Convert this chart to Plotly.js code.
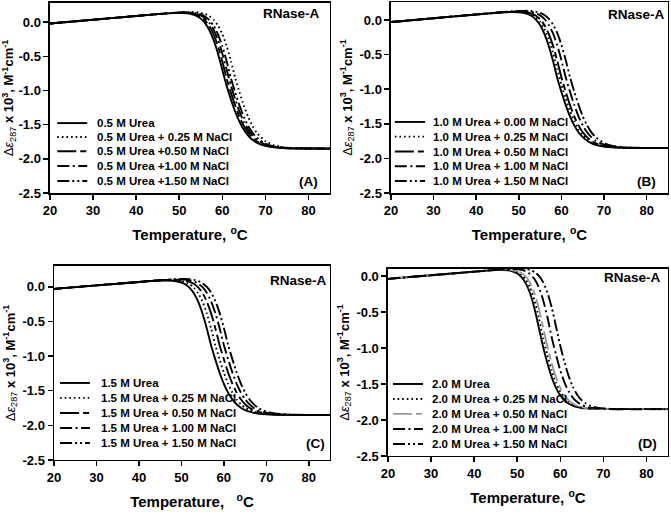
<!DOCTYPE html>
<html>
<head>
<meta charset="utf-8">
<script src="https://cdn.plot.ly/plotly-3.0.1.min.js"></script>
<style>
  body { margin: 0; background: #fff; }
  #chart { width: 671px; height: 515px; }
</style>
</head>
<body>
<div id="chart"></div>
<script>
// Temperature grid (deg C) shared by all curves
const temps = [20, 30, 40, 45, 48, 50, 51, 52, 53, 54, 55, 56, 57, 58, 59, 60, 61, 62, 63, 64, 65, 66, 67, 68, 70, 72, 75, 80, 85]

// (A) 0.5 M urea
const A_nacl000 = [-0.020, 0.035, 0.090, 0.117, 0.130, 0.135, 0.133, 0.128, 0.115, 0.092, 0.051, -0.015, -0.118, -0.265, -0.461, -0.698, -0.929, -1.131, -1.311, -1.459, -1.574, -1.659, -1.720, -1.762, -1.811, -1.832, -1.845, -1.849, -1.850]
const A_nacl025 = [-0.020, 0.035, 0.090, 0.117, 0.133, 0.142, 0.146, 0.148, 0.148, 0.145, 0.136, 0.119, 0.087, 0.034, -0.049, -0.174, -0.347, -0.567, -0.817, -1.027, -1.221, -1.386, -1.518, -1.618, -1.742, -1.801, -1.836, -1.848, -1.850]
const A_nacl050 = [-0.020, 0.035, 0.090, 0.117, 0.131, 0.137, 0.137, 0.134, 0.125, 0.108, 0.077, 0.024, -0.059, -0.183, -0.355, -0.574, -0.822, -1.031, -1.224, -1.389, -1.520, -1.619, -1.692, -1.743, -1.802, -1.829, -1.844, -1.849, -1.850]
const A_nacl100 = [-0.020, 0.035, 0.090, 0.117, 0.132, 0.139, 0.140, 0.139, 0.133, 0.121, 0.097, 0.056, -0.010, -0.113, -0.261, -0.458, -0.694, -0.926, -1.129, -1.310, -1.458, -1.573, -1.658, -1.719, -1.791, -1.824, -1.842, -1.849, -1.850]
const A_nacl150 = [-0.020, 0.035, 0.090, 0.117, 0.132, 0.140, 0.142, 0.143, 0.139, 0.131, 0.113, 0.082, 0.029, -0.054, -0.178, -0.351, -0.570, -0.820, -1.029, -1.222, -1.387, -1.519, -1.619, -1.691, -1.778, -1.818, -1.841, -1.849, -1.850]

// (B) 1.0 M urea
const B_nacl000 = [-0.030, 0.025, 0.080, 0.105, 0.116, 0.113, 0.105, 0.088, 0.057, 0.005, -0.077, -0.200, -0.371, -0.587, -0.833, -1.040, -1.230, -1.393, -1.523, -1.622, -1.693, -1.744, -1.779, -1.802, -1.829, -1.841, -1.848, -1.850, -1.850]
const B_nacl025 = [-0.030, 0.025, 0.080, 0.106, 0.118, 0.118, 0.112, 0.100, 0.077, 0.036, -0.029, -0.131, -0.277, -0.472, -0.706, -0.936, -1.137, -1.315, -1.462, -1.576, -1.660, -1.720, -1.763, -1.791, -1.824, -1.838, -1.847, -1.850, -1.850]
const B_nacl050 = [-0.030, 0.025, 0.080, 0.107, 0.119, 0.122, 0.119, 0.110, 0.093, 0.062, 0.010, -0.073, -0.196, -0.367, -0.584, -0.830, -1.037, -1.229, -1.392, -1.522, -1.621, -1.693, -1.743, -1.778, -1.818, -1.836, -1.846, -1.850, -1.850]
const B_nacl100 = [-0.030, 0.025, 0.080, 0.107, 0.121, 0.127, 0.127, 0.124, 0.116, 0.098, 0.067, 0.015, -0.068, -0.191, -0.363, -0.580, -0.827, -1.035, -1.227, -1.391, -1.522, -1.621, -1.692, -1.743, -1.802, -1.829, -1.844, -1.849, -1.850]
const B_nacl150 = [-0.030, 0.025, 0.080, 0.107, 0.123, 0.130, 0.132, 0.133, 0.130, 0.121, 0.104, 0.072, 0.020, -0.063, -0.187, -0.359, -0.577, -0.825, -1.033, -1.225, -1.390, -1.521, -1.620, -1.692, -1.778, -1.818, -1.841, -1.849, -1.850]

// (C) 1.5 M urea
const C_nacl000 = [-0.030, 0.020, 0.070, 0.090, 0.088, 0.062, 0.031, -0.020, -0.102, -0.223, -0.392, -0.605, -0.848, -1.051, -1.240, -1.400, -1.528, -1.625, -1.696, -1.745, -1.780, -1.803, -1.819, -1.829, -1.841, -1.846, -1.849, -1.850, -1.850]
const C_nacl025 = [-0.030, 0.020, 0.070, 0.092, 0.097, 0.085, 0.067, 0.036, -0.016, -0.097, -0.219, -0.388, -0.602, -0.845, -1.049, -1.238, -1.399, -1.527, -1.625, -1.695, -1.745, -1.780, -1.803, -1.819, -1.836, -1.844, -1.848, -1.850, -1.850]
const C_nacl050 = [-0.030, 0.020, 0.070, 0.094, 0.102, 0.098, 0.089, 0.072, 0.041, -0.011, -0.093, -0.215, -0.384, -0.599, -0.843, -1.047, -1.237, -1.398, -1.527, -1.624, -1.695, -1.745, -1.779, -1.803, -1.829, -1.841, -1.847, -1.850, -1.850]
const C_nacl100 = [-0.030, 0.020, 0.070, 0.095, 0.105, 0.107, 0.103, 0.094, 0.077, 0.046, -0.006, -0.088, -0.211, -0.381, -0.596, -0.840, -1.046, -1.235, -1.397, -1.526, -1.624, -1.694, -1.745, -1.779, -1.818, -1.836, -1.846, -1.850, -1.850]
const C_nacl150 = [-0.030, 0.020, 0.070, 0.095, 0.107, 0.112, 0.112, 0.108, 0.099, 0.082, 0.050, -0.002, -0.084, -0.207, -0.377, -0.593, -0.838, -1.044, -1.234, -1.396, -1.525, -1.623, -1.694, -1.744, -1.802, -1.829, -1.844, -1.849, -1.850]

// (D) 2.0 M urea
const D_nacl000 = [-0.040, 0.010, 0.060, 0.081, 0.077, 0.036, -0.015, -0.103, -0.244, -0.450, -0.713, -0.979, -1.210, -1.405, -1.553, -1.658, -1.729, -1.775, -1.803, -1.821, -1.833, -1.839, -1.844, -1.846, -1.849, -1.850, -1.850, -1.850, -1.850]
const D_nacl025 = [-0.040, 0.010, 0.060, 0.082, 0.082, 0.054, 0.016, -0.051, -0.164, -0.337, -0.574, -0.855, -1.097, -1.312, -1.484, -1.610, -1.697, -1.754, -1.791, -1.814, -1.828, -1.836, -1.842, -1.845, -1.848, -1.850, -1.850, -1.850, -1.850]
const D_nacl050 = [-0.040, 0.010, 0.060, 0.083, 0.087, 0.068, 0.041, -0.010, -0.098, -0.240, -0.446, -0.710, -0.977, -1.208, -1.404, -1.553, -1.658, -1.729, -1.775, -1.803, -1.821, -1.833, -1.839, -1.843, -1.848, -1.850, -1.850, -1.850, -1.850]
const D_nacl100 = [-0.040, 0.010, 0.060, 0.084, 0.095, 0.092, 0.084, 0.064, 0.026, -0.042, -0.155, -0.329, -0.567, -0.850, -1.093, -1.310, -1.483, -1.609, -1.696, -1.754, -1.790, -1.813, -1.828, -1.836, -1.845, -1.848, -1.850, -1.850, -1.850]
const D_nacl150 = [-0.040, 0.010, 0.060, 0.085, 0.098, 0.103, 0.102, 0.096, 0.083, 0.055, 0.004, -0.085, -0.228, -0.435, -0.701, -0.970, -1.204, -1.400, -1.550, -1.657, -1.728, -1.774, -1.803, -1.821, -1.839, -1.846, -1.849, -1.850, -1.850]

const labelsA = ["0.5 M Urea", "0.5 M Urea + 0.25 M NaCl", "0.5 M Urea +0.50 M NaCl", "0.5 M Urea +1.00 M NaCl", "0.5 M Urea +1.50 M NaCl"]
const labelsB = ["1.0 M Urea + 0.00 M NaCl", "1.0 M Urea + 0.25 M NaCl", "1.0 M Urea + 0.50 M NaCl", "1.0 M Urea + 1.00 M NaCl", "1.0 M Urea + 1.50 M NaCl"]
const labelsC = ["1.5 M Urea", "1.5 M Urea + 0.25 M NaCl", "1.5 M Urea + 0.50 M NaCl", "1.5 M Urea + 1.00 M NaCl", "1.5 M Urea + 1.50 M NaCl"]
const labelsD = ["2.0 M Urea", "2.0 M Urea + 0.25 M NaCl", "2.0 M Urea + 0.50 M NaCl", "2.0 M Urea + 1.00 M NaCl", "2.0 M Urea + 1.50 M NaCl"]

const xTicks = [20, 30, 40, 50, 60, 70, 80]
const yTicks = [-2.5, -2.0, -1.5, -1.0, -0.5, 0.0]
const yTickText = ["-2.5", "-2.0", "-1.5", "-1.0", "-0.5", "0.0"]

const FONT = "Liberation Sans, Arial, Helvetica, sans-serif"
// solid, dotted, long-short dash, dash-dot, dash-dot-dot
const dashes = ["solid", "1.6px,3px", "19px,4px,6px,4px", "12px,3.5px,2px,3.5px", "12px,3px,2px,3px,2px,3px"]

const panels = [
    { tag: "(A)", ax: "", series: [A_nacl000, A_nacl025, A_nacl050, A_nacl100, A_nacl150], labels: labelsA,
      xdom: [0.0745, 0.4918], ydom: [0.6252, 0.9942], yrange: [-2.5, 0.28],
      leg: { x0: 0.026, x1: 0.133, tx: 0.161, rows: [0.368, 0.295, 0.220, 0.142, 0.063] },
      name_pos: [0.971, 0.946], tag_pos: [0.964, 0.059], colors: ["#000", "#000", "#000", "#000", "#000"], xtitle: "Temperature, <sup>o</sup>C" },
    { tag: "(B)", ax: "2", series: [B_nacl000, B_nacl025, B_nacl050, B_nacl100, B_nacl150], labels: labelsB,
      xdom: [0.5827, 0.9955], ydom: [0.6252, 0.9961], yrange: [-2.5, 0.26],
      leg: { x0: 0.014, x1: 0.123, tx: 0.144, rows: [0.372, 0.295, 0.217, 0.140, 0.063] },
      name_pos: [0.996, 0.932], tag_pos: [0.964, 0.058], colors: ["#000", "#000", "#000", "#000", "#000"], xtitle: "Temperature, <sup>o</sup>C" },
    { tag: "(C)", ax: "3", series: [C_nacl000, C_nacl025, C_nacl050, C_nacl100, C_nacl150], labels: labelsC,
      xdom: [0.0805, 0.4918], ydom: [0.1068, 0.4835], yrange: [-2.5, 0.30],
      leg: { x0: 0.022, x1: 0.130, tx: 0.163, rows: [0.397, 0.320, 0.242, 0.165, 0.088] },
      name_pos: [0.996, 0.926], tag_pos: [0.989, 0.084], colors: ["#000", "#000", "#000", "#000", "#000"], xtitle: "Temperature,   <sup>o</sup>C" },
    { tag: "(D)", ax: "4", series: [D_nacl000, D_nacl025, D_nacl050, D_nacl100, D_nacl150], labels: labelsD,
      xdom: [0.5782, 0.9955], ydom: [0.1146, 0.4777], yrange: [-2.5, 0.097],
      leg: { x0: 0.018, x1: 0.125, tx: 0.150, rows: [0.385, 0.305, 0.225, 0.144, 0.064] },
      name_pos: [0.982, 0.952], tag_pos: [0.968, 0.066], colors: ["#000", "#000", "#999", "#000", "#000"], xtitle: "Temperature, <sup>o</sup>C" },
]

const data = []
const shapes = []
const annotations = []
const layout = {
    width: 671, height: 515,
    margin: { l: 0, r: 0, t: 0, b: 0 },
    paper_bgcolor: "#fff", plot_bgcolor: "#fff",
    showlegend: false,
    font: { family: FONT, color: "#000" },
}

for (const p of panels) {
    const xa = "x" + p.ax, ya = "y" + p.ax
    p.series.forEach((s, i) => {
        data.push({
            x: temps, y: s, xaxis: xa, yaxis: ya, mode: "lines", hoverinfo: "skip",
            line: { color: p.colors[i], width: 1.9, dash: dashes[i], shape: "spline", smoothing: 0.6 },
        })
        // hand-made legend (Plotly's own legend rows are too tall here)
        shapes.push({
            type: "line", xref: xa + " domain", yref: ya + " domain",
            x0: p.leg.x0, x1: p.leg.x1, y0: p.leg.rows[i], y1: p.leg.rows[i],
            line: { color: p.colors[i], width: 1.9, dash: dashes[i] },
        })
        annotations.push({
            xref: xa + " domain", yref: ya + " domain", x: p.leg.tx, y: p.leg.rows[i],
            xanchor: "left", yanchor: "middle", showarrow: false, text: p.labels[i],
            font: { family: FONT, size: 11.5, weight: "bold" },
        })
    })
    annotations.push({
        xref: xa + " domain", yref: ya + " domain", x: p.name_pos[0], y: p.name_pos[1],
        xanchor: "right", yanchor: "middle", showarrow: false, text: "RNase-A",
        font: { family: FONT, size: 13.5, weight: "bold" },
    })
    annotations.push({
        xref: xa + " domain", yref: ya + " domain", x: p.tag_pos[0], y: p.tag_pos[1],
        xanchor: "right", yanchor: "middle", showarrow: false, text: p.tag,
        font: { family: FONT, size: 13.5, weight: "bold" },
    })

    const common = {
        showline: true, linecolor: "#000", linewidth: 1.5, mirror: true,
        ticks: "outside", ticklen: 5, tickwidth: 1.5, tickcolor: "#000",
        showgrid: false, zeroline: false, fixedrange: true,
        tickfont: { family: FONT, size: 13, weight: "bold" },
    }
    layout["xaxis" + p.ax] = Object.assign({}, common, {
        domain: p.xdom, range: [20, 85], anchor: ya, tickvals: xTicks,
        title: { text: p.xtitle, font: { family: FONT, size: 15, weight: "bold" }, standoff: 12 },
    })
    layout["yaxis" + p.ax] = Object.assign({}, common, {
        domain: p.ydom, range: p.yrange, anchor: xa, tickvals: yTicks, ticktext: yTickText,
        title: {
            text: "<span style='font-weight:normal'>Δ<i>ε</i><sub>287</sub></span> x 10<sup>3</sup>, M<sup>-1</sup>cm<sup>-1</sup>",
            font: { family: FONT, size: 13, weight: "bold" }, standoff: 4,
        },
    })
}

layout.shapes = shapes
layout.annotations = annotations

Plotly.newPlot("chart", data, layout, { displayModeBar: false, staticPlot: true })
</script>
</body>
</html>
